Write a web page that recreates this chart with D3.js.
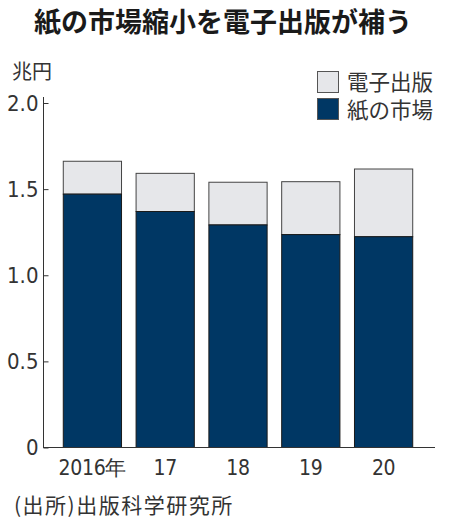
<!DOCTYPE html>
<meta charset="utf-8">
<script src="https://d3js.org/d3.v7.min.js"></script>
<style>
  body { margin: 0; background: #fff; }
  text { fill: #222; }
</style>
<div id="chart"></div>
<script>

// data (兆円)
var years = ["2016", "17", "18", "19", "20"];
var yearLabels = ["2016年", "17", "18", "19", "20"];
var paper = [1.4709, 1.3701, 1.2921, 1.2360, 1.2237];
var digital = [0.1909, 0.2215, 0.2479, 0.3072, 0.3931];
var yTicks = [0, 0.5, 1.0, 1.5, 2.0];
var seriesNames = ["電子出版", "紙の市場"];

var W = 450, H = 522;
var jp = "'Noto Sans CJK JP', 'Noto Sans', sans-serif";
var num = "'Liberation Sans Narrow', 'DejaVu Sans Condensed', sans-serif";

var svg = d3.select("#chart").append("svg")
  .attr("width", W)
  .attr("height", H);

// title
svg.append("text")
  .attr("x", 223).attr("y", 32)
  .attr("text-anchor", "middle")
  .style("font-family", jp)
  .style("font-weight", "bold")
  .style("font-size", "27px")
  .style("fill", "#1a1a1a")
  .text("紙の市場縮小を電子出版が補う");

// scales
var x = d3.scaleBand()
  .domain(years)
  .range([56, 420])
  .paddingInner(0.2)
  .paddingOuter(0.1);

var y = d3.scaleLinear()
  .domain([0, 2])
  .range([447.5, 103]);

// unit
svg.append("text")
  .attr("x", 12).attr("y", 79)
  .style("font-family", jp)
  .style("font-size", "20px")
  .style("fill", "#333")
  .text("兆円");

// stacked bars
var rows = years.map(function(yr, i) {
  return { year: yr, paper: paper[i], digital: digital[i] };
});

svg.selectAll(".digital")
  .data(rows)
  .enter().append("rect")
    .attr("x", function(d) { return x(d.year); })
    .attr("width", x.bandwidth())
    .attr("y", function(d) { return y(d.paper + d.digital); })
    .attr("height", function(d) { return y(d.paper) - y(d.paper + d.digital); })
    .attr("fill", "#e6e7ea")
    .attr("stroke", "#444")
    .attr("stroke-width", 1);

svg.selectAll(".paper")
  .data(rows)
  .enter().append("rect")
    .attr("x", function(d) { return x(d.year); })
    .attr("width", x.bandwidth())
    .attr("y", function(d) { return y(d.paper); })
    .attr("height", function(d) { return y(0) - y(d.paper); })
    .attr("fill", "#003764")
    .attr("stroke", "#1a1a1a")
    .attr("stroke-width", 1);

// y axis
var yAxis = svg.append("g")
  .attr("transform", "translate(43.5,0)")
  .call(d3.axisRight(y).tickValues(yTicks).tickSize(5).tickFormat(function(d) { return d === 0 ? "0" : d3.format(".1f")(d); }));
yAxis.select(".domain").attr("d", "M0," + (y(2) - 6) + "V" + y(0)).attr("stroke", "#333");
yAxis.selectAll(".tick line").attr("stroke", "#333");
yAxis.selectAll(".tick text")
  .attr("x", -5)
  .attr("text-anchor", "end")
  .style("font-family", num)
  .style("font-size", "22px")
  .style("fill", "#333");

// baseline
svg.append("line")
  .attr("x1", 43).attr("x2", 435)
  .attr("y1", y(0)).attr("y2", y(0))
  .attr("stroke", "#333")
  .attr("stroke-width", 1);

// x labels
svg.selectAll(".xlab")
  .data(years)
  .enter().append("text")
    .attr("x", function(d) { return x(d) + x.bandwidth() / 2; })
    .attr("y", 475)
    .attr("text-anchor", "middle")
    .style("font-family", num)
    .style("font-size", "21px")
    .style("letter-spacing", "-0.3px")
    .style("fill", "#333")
    .text(function(d, i) { return yearLabels[i]; });

// legend
var legendFill = ["#e6e7ea", "#003764"];
seriesNames.forEach(function(name, i) {
  svg.append("rect")
    .attr("x", 317.5).attr("y", 71.5 + i * 27)
    .attr("width", 21).attr("height", 21)
    .attr("fill", legendFill[i])
    .attr("stroke", "#555");
  svg.append("text")
    .attr("x", 347).attr("y", 90 + i * 28)
    .style("font-family", jp)
    .style("font-size", "21.5px")
    .style("fill", "#333")
    .text(name);
});

// source
svg.append("text")
  .attr("x", 14).attr("y", 513)
  .style("font-family", jp)
  .style("font-size", "21px")
  .style("letter-spacing", "1.5px")
  .style("fill", "#333")
  .text("(出所)出版科学研究所");

</script>
